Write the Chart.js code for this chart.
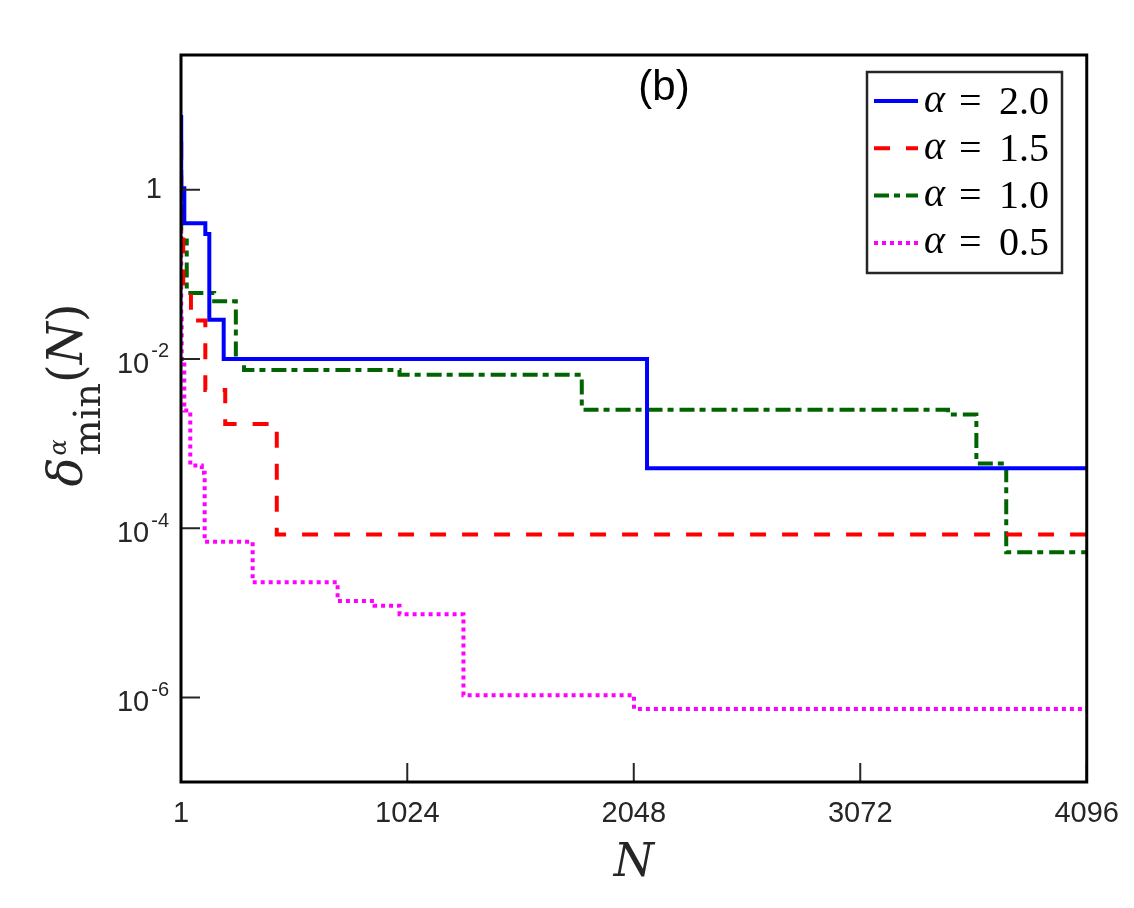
<!DOCTYPE html>
<html>
<head>
<meta charset="utf-8">
<script src="https://cdn.jsdelivr.net/npm/chart.js@4.4.1/dist/chart.umd.min.js"></script>
<style>
html, body { margin: 0; padding: 0; background: #fff; }
#wrap { width: 1134px; height: 908px; }
</style>
</head>
<body>
<div id="wrap"><canvas id="myChart" width="1134" height="908"></canvas></div>
<script>
// N where each level starts, and the level itself (stairs)
const n20 = [1, 2, 16, 111, 129, 194, 2108, 4096];
const d20 = [7.2, 1.04, 0.40, 0.30, 0.029, 0.0100, 5.1e-4, 5.1e-4];

const n15 = [1, 2, 11, 46, 111, 201, 434, 4096];
const d15 = [3.5, 1.0, 0.064, 0.0284, 0.0043, 0.0017, 8.4e-5, 8.4e-5];

const n10 = [1, 2, 27, 151, 249, 286, 989, 1813, 3469, 3597, 3732, 4096];
const d10 = [1.6, 0.25, 0.060, 0.048, 0.0100, 0.0074, 0.0065, 0.0025, 0.0022, 5.8e-4, 5.2e-5, 5.2e-5];

const n05 = [1, 2, 4, 16, 43, 95, 108, 325, 709, 876, 989, 1278, 2049, 4096];
const d05 = [0.8, 0.03, 0.01, 0.00245, 5.5e-4, 4.5e-4, 6.9e-5, 2.3e-5, 1.38e-5, 1.21e-5, 9.6e-6, 1.06e-6, 7.3e-7, 7.3e-7];

const alphas = ['2.0', '1.5', '1.0', '0.5'];
const xTicks = [1, 1024, 2048, 3072, 4096];
const yTicks = [1, 1e-2, 1e-4, 1e-6];

const steps = (ns, ds) => ns.map((n, i) => ({x: n, y: ds[i]}));

const ink = '#262626';

const decor = {
    id: 'decor',
    afterDatasetsDraw: (chart) => {
        const ctx = chart.ctx;
        const a = chart.chartArea;
        const xs = chart.scales.x, ys = chart.scales.y;
        ctx.save();

        // inward tick marks
        ctx.strokeStyle = ink;
        ctx.lineWidth = 2;
        ctx.beginPath();
        xTicks.forEach(v => {
            const px = xs.getPixelForValue(v);
            ctx.moveTo(px, a.bottom); ctx.lineTo(px, a.bottom - 19);
        });
        yTicks.forEach(v => {
            const py = ys.getPixelForValue(v);
            ctx.moveTo(a.left, py); ctx.lineTo(a.left + 19, py);
        });
        ctx.stroke();

        // box
        ctx.strokeStyle = '#000';
        ctx.lineWidth = 3;
        ctx.strokeRect(a.left, a.top, a.right - a.left, a.bottom - a.top);

        // y tick labels with raised exponent
        ctx.fillStyle = ink;
        ctx.textBaseline = 'middle';
        yTicks.forEach(v => {
            const py = ys.getPixelForValue(v);
            const e = Math.round(Math.log10(v));
            const right = a.left - 12;
            ctx.textAlign = 'right';
            if (e === 0) {
                ctx.font = '29px "Liberation Sans"';
                ctx.fillText('1', right - 7, py);
            } else {
                ctx.font = '20px "Liberation Sans"';
                const ew = ctx.measureText(String(e)).width;
                ctx.fillText(String(e), right, py - 7);
                ctx.font = '29px "Liberation Sans"';
                ctx.fillText('10', right - ew - 2, py + 6);
            }
        });

        // panel tag
        ctx.font = '42px "Liberation Sans"';
        ctx.textAlign = 'center';
        ctx.fillStyle = '#000';
        ctx.fillText('(b)', 664, 88);

        // x title
        ctx.font = 'italic 46px "DejaVu Serif"';
        ctx.fillStyle = ink;
        ctx.textBaseline = 'alphabetic';
        ctx.fillText('N', (a.left + a.right) / 2, 876);

        // y title: delta^alpha_min(N), rotated
        ctx.translate(82, 395);
        ctx.rotate(-Math.PI / 2);
        ctx.textAlign = 'left';
        const parts = [
            {t: 'δ', f: 'italic 48px "DejaVu Serif"', dy: 0},
            {t: 'α', f: 'italic 24px "DejaVu Serif"', dy: -16, stack: true},
            {t: 'min', f: '38px "DejaVu Serif"', dy: 18, stack: true},
            {t: '(', f: '48px "DejaVu Serif"', dy: 0},
            {t: 'N', f: 'italic 48px "DejaVu Serif"', dy: 0},
            {t: ')', f: '48px "DejaVu Serif"', dy: 0}
        ];
        let total = 0, stackW = 0;
        parts.forEach(p => { ctx.font = p.f; p.w = ctx.measureText(p.t).width; });
        parts.forEach(p => {
            if (p.stack) stackW = Math.max(stackW, p.w + 2);
            else { total += stackW; stackW = 0; total += p.w; }
        });
        let x = -total / 2, sw = 0;
        parts.forEach(p => {
            ctx.font = p.f;
            if (p.stack) {
                ctx.fillText(p.t, x + 2, p.dy);
                sw = Math.max(sw, p.w + 2);
            } else {
                x += sw; sw = 0;
                ctx.fillText(p.t, x, p.dy);
                x += p.w;
            }
        });
        ctx.restore();

        // legend
        ctx.save();
        const lx = 867, ly = 72, lw = 195, lh = 201;
        ctx.fillStyle = '#fff';
        ctx.fillRect(lx, ly, lw, lh);
        ctx.strokeStyle = ink;
        ctx.lineWidth = 2.5;
        ctx.strokeRect(lx, ly, lw, lh);
        chart.data.datasets.forEach((ds, i) => {
            const ry = 101 + i * 47.3;
            ctx.strokeStyle = ds.borderColor;
            ctx.lineWidth = ds.borderWidth;
            ctx.setLineDash(ds.borderDash || []);
            ctx.beginPath();
            ctx.moveTo(874, ry); ctx.lineTo(918, ry);
            ctx.stroke();
            ctx.setLineDash([]);
            ctx.fillStyle = '#000';
            ctx.textBaseline = 'middle';
            ctx.textAlign = 'left';
            ctx.font = 'italic 40px "Liberation Serif"';
            ctx.fillText('α', 924, ry);
            ctx.font = '40px "Liberation Serif"';
            ctx.fillText('=', 959, ry + 2);
            ctx.fillText(alphas[i], 999, ry + 2);
        });
        ctx.restore();
    }
};

const bg = {
    id: 'bg',
    beforeDraw: (chart) => {
        const ctx = chart.ctx;
        ctx.save();
        ctx.fillStyle = '#fff';
        ctx.fillRect(0, 0, chart.width, chart.height);
        ctx.restore();
    }
};

var ctx = document.getElementById('myChart').getContext('2d');
var myChart = new Chart(ctx, {
    type: 'line',
    plugins: [bg, decor],
    data: {
        datasets: [{
            label: 'α = 2.0',
            data: steps(n20, d20),
            borderColor: '#0000ff',
            borderWidth: 4,
            stepped: 'before'
        }, {
            label: 'α = 1.5',
            data: steps(n15, d15),
            borderColor: '#ff0000',
            borderWidth: 4,
            borderDash: [16, 16],
            stepped: 'before'
        }, {
            label: 'α = 1.0',
            data: steps(n10, d10),
            borderColor: '#006400',
            borderWidth: 4,
            borderDash: [15, 5, 6, 6],
            stepped: 'before'
        }, {
            label: 'α = 0.5',
            data: steps(n05, d05),
            borderColor: '#ff00ff',
            borderWidth: 4,
            borderDash: [4, 4],
            stepped: 'before'
        }]
    },
    options: {
        responsive: false,
        animation: false,
        devicePixelRatio: 1,
        layout: {padding: {left: 0, right: 45, top: 55, bottom: 0}},
        elements: {
            point: {radius: 0, hoverRadius: 0},
            line: {fill: false, tension: 0, borderCapStyle: 'butt'}
        },
        plugins: {legend: {display: false}, tooltip: {enabled: false}},
        scales: {
            x: {
                type: 'linear',
                min: 1,
                max: 4096,
                grid: {display: false, drawTicks: false},
                border: {display: false},
                afterBuildTicks: (s) => { s.ticks = xTicks.map(v => ({value: v})); },
                afterFit: (s) => { s.height = 126; },
                ticks: {
                    autoSkip: false,
                    maxRotation: 0,
                    padding: 15,
                    color: ink,
                    font: {family: 'Liberation Sans', size: 29},
                    callback: (v) => String(v)
                }
            },
            y: {
                type: 'logarithmic',
                min: 1e-7,
                max: 39,
                grid: {display: false, drawTicks: false},
                border: {display: false},
                ticks: {display: false},
                afterFit: (s) => { s.width = 181; }
            }
        }
    }
});
</script>
</body>
</html>
